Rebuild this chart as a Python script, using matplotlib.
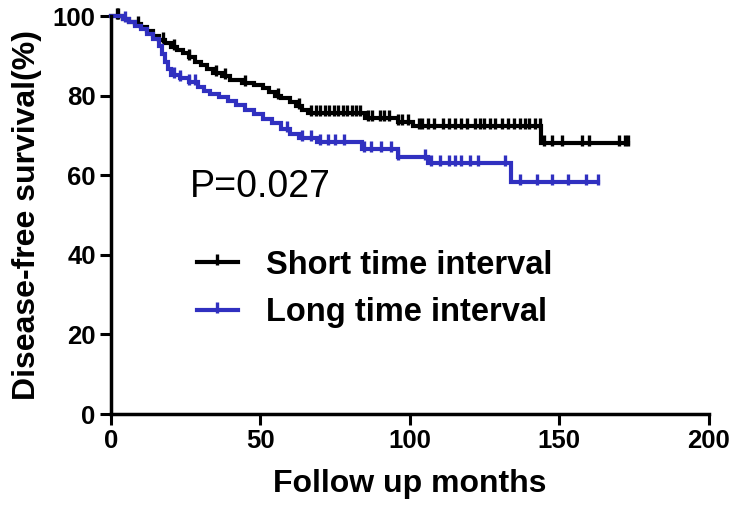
import numpy as np
import matplotlib
matplotlib.use("Agg")
import matplotlib.pyplot as plt
from matplotlib.lines import Line2D
from matplotlib.path import Path

# Kaplan-Meier steps: time of drop (months) and survival (%) after it
short_t = [0, 4, 6, 8, 10, 12, 14, 16, 18, 20, 22, 24, 26, 28, 30, 32, 34, 37, 40,
           44, 48, 51, 53, 55, 57, 60, 62, 64, 66, 85, 96, 101, 144]
short_s = [100, 99.3, 98.6, 97.9, 97.2, 96.3, 95.0, 94.0, 93.2, 92.3, 91.4, 90.6, 89.6,
           88.5, 87.6, 86.6, 85.8, 85.0, 84.0, 83.2, 82.6, 82.0, 81.0, 80.0, 79.3, 78.3,
           77.3, 76.3, 75.6, 74.4, 73.3, 72.3, 68.0]
short_end = 173
short_cens = [2, 2.5, 9, 17.5, 21, 26, 35, 38, 45, 56, 63, 67, 68.5, 70, 71.5, 73, 74.5,
              76, 77.5, 79, 80.5, 82, 83.5, 86, 87.5, 90, 91.5, 93, 96, 97.5, 99.5, 103,
              104, 106, 108, 111, 113, 115, 117, 119, 122, 123.5, 125, 127, 128.5, 131,
              133, 135, 137, 138.5, 140, 142, 143.5, 145, 147.5, 151, 157.6, 160, 170,
              172, 173]

long_t = [0, 4, 6, 8, 10, 12, 14, 16, 17, 18, 19, 20, 23, 26, 29, 31, 33, 36, 39, 42,
          45, 48, 51, 54, 57, 60, 63, 69, 84, 96, 106, 134]
long_s = [100, 99.3, 98.5, 97.6, 96.8, 95.6, 94.2, 92.5, 90.5, 88.5, 86.8, 85.2, 84.4,
          83.3, 82.2, 81.2, 80.5, 79.6, 78.6, 77.6, 76.4, 75.4, 74.2, 73.0, 71.6, 70.4,
          69.3, 68.3, 66.5, 64.7, 63.0, 58.2]
long_end = 163
long_cens = [4.7, 21, 23, 26, 28, 59, 64, 67, 70, 72.6, 75, 78, 84.7, 87, 90.4, 93.8,
             96, 105, 107, 110, 113, 115, 117, 120, 123, 132, 137, 142.5, 147.5, 153,
             159, 163]

x_ticks = [0, 50, 100, 150, 200]
y_ticks = [0, 20, 40, 60, 80, 100]

BLACK = "#000000"
BLUE = "#3030c0"

plt.rcParams["font.family"] = ["Liberation Sans", "DejaVu Sans"]

# censor tick: mostly above the line
tick_marker = Path([(0, -0.35), (0, 1.0)], [Path.MOVETO, Path.LINETO])


def km_curve(ax, t, s, end, cens, color):
    xs = list(t) + [end]
    ys = list(s) + [s[-1]]
    ax.step(xs, ys, where="post", color=color, linewidth=3.0, clip_on=False,
            solid_joinstyle="miter")
    idx = np.searchsorted(t, cens, side="right") - 1
    cy = np.asarray(s)[idx]
    ax.plot(cens, cy, linestyle="none", marker=tick_marker, markersize=11,
            markeredgewidth=2.4, color=color, clip_on=False)


fig = plt.figure(figsize=(7.35, 5.08), dpi=100)
ax = fig.add_axes([0.151, 0.185, 0.813, 0.7835])

km_curve(ax, short_t, short_s, short_end, short_cens, BLACK)
km_curve(ax, long_t, long_s, long_end, long_cens, BLUE)

ax.set_xlim(0, 200)
ax.set_ylim(0, 100)
ax.set_xticks(x_ticks)
ax.set_yticks(y_ticks)
for side in ("top", "right"):
    ax.spines[side].set_visible(False)
for side in ("left", "bottom"):
    ax.spines[side].set_linewidth(2.5)
ax.tick_params(direction="out", length=8, width=2.2, labelsize=18.5, pad=3)
for lbl in ax.get_xticklabels() + ax.get_yticklabels():
    lbl.set_fontweight("bold")

ax.set_xlabel("Follow up months", fontsize=23, fontweight="bold", labelpad=11)
ax.set_ylabel("Disease-free survival(%)", fontsize=23, fontweight="bold", labelpad=8)

ax.text(26.5, 57.0, "P=0.027", fontsize=27, ha="left", va="center")

handles = [
    Line2D([], [], color=BLACK, linewidth=3.0, marker=tick_marker, markersize=11,
           markeredgewidth=2.4),
    Line2D([], [], color=BLUE, linewidth=3.0, marker=tick_marker, markersize=11,
           markeredgewidth=2.4),
]
ax.legend(handles, ["Short time interval", "Long time interval"],
          loc="upper left", bbox_to_anchor=(0.237, 0.553), bbox_transform=fig.transFigure,
          frameon=False, prop={"size": 23.5, "weight": "bold"},
          handlelength=1.25, handletextpad=0.85, labelspacing=0.5, borderpad=0.2)

fig.savefig("out.png", dpi=100)
